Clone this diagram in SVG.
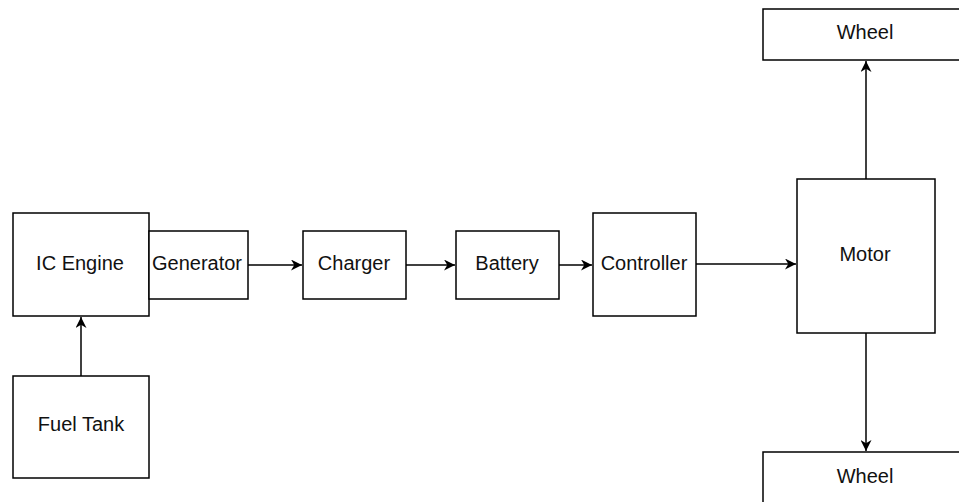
<svg xmlns="http://www.w3.org/2000/svg" width="959" height="502" viewBox="0 0 959 502">
<defs>
<style>
.box{fill:#fff;stroke:#000;stroke-width:1.5}
.lbl{font-family:"Liberation Sans",Arial,sans-serif;font-size:20px;fill:#111;text-anchor:middle;dominant-baseline:central}
.edge{stroke:#000;stroke-width:1.5;fill:none}
</style>
<marker id="arr" viewBox="0 0 10 10" refX="10" refY="5" markerWidth="12" markerHeight="11" markerUnits="userSpaceOnUse" orient="auto">
<path d="M0,0 L10,5 L0,10 L3,5 Z" fill="#000"/>
</marker>
</defs>
<rect width="959" height="502" fill="#fff"/>
<g id="connectors">
<line class="edge" x1="248" y1="265" x2="302" y2="265" marker-end="url(#arr)"/>
<line class="edge" x1="406" y1="265" x2="455" y2="265" marker-end="url(#arr)"/>
<line class="edge" x1="559" y1="265" x2="592" y2="265" marker-end="url(#arr)"/>
<line class="edge" x1="696" y1="264" x2="796" y2="264" marker-end="url(#arr)"/>
<line class="edge" x1="81" y1="376" x2="81" y2="317" marker-end="url(#arr)"/>
<line class="edge" x1="866" y1="179" x2="866" y2="61" marker-end="url(#arr)"/>
<line class="edge" x1="866" y1="333" x2="866" y2="451" marker-end="url(#arr)"/>
</g>
<g id="ic-engine"><rect class="box" x="13" y="213" width="136" height="103"/><text class="lbl" x="80" y="263">IC Engine</text></g>
<g id="generator"><rect class="box" x="149" y="231" width="99" height="68"/><text class="lbl" x="197" y="263">Generator</text></g>
<g id="charger"><rect class="box" x="303" y="231" width="103" height="68"/><text class="lbl" x="354" y="263">Charger</text></g>
<g id="battery"><rect class="box" x="456" y="231" width="103" height="68"/><text class="lbl" x="507" y="263">Battery</text></g>
<g id="controller"><rect class="box" x="593" y="213" width="103" height="103"/><text class="lbl" x="644" y="263">Controller</text></g>
<g id="motor"><rect class="box" x="797" y="179" width="138" height="154"/><text class="lbl" x="865" y="254">Motor</text></g>
<g id="fuel-tank"><rect class="box" x="13" y="376" width="136" height="102"/><text class="lbl" x="81" y="424">Fuel Tank</text></g>
<g id="wheel-top"><rect class="box" x="763" y="9" width="206" height="51"/><text class="lbl" x="865" y="32">Wheel</text></g>
<g id="wheel-bottom"><rect class="box" x="763" y="452" width="206" height="60"/><text class="lbl" x="865" y="476">Wheel</text></g>
</svg>
